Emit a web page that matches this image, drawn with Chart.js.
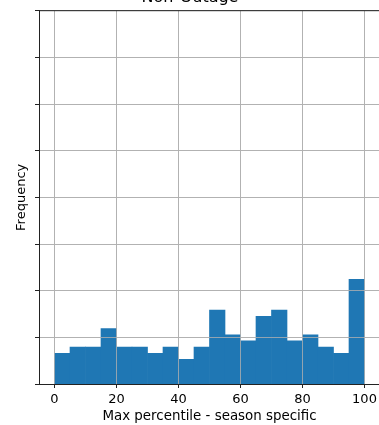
<!DOCTYPE html>
<html lang="en">
<head>
  <meta charset="UTF-8" />
  <title>Non-Outage</title>
  <script src="https://cdn.jsdelivr.net/npm/chart.js"></script>
  <style>
    body { margin: 0; overflow: hidden; background: #fff; }
    #wrap { position: absolute; left: 0; top: -20px; width: 382px; height: 445px; }
  </style>
</head>
<body>
  <div id="wrap"><canvas id="histChart"></canvas></div>

  <script>
    // histogram bins (centres of 5-wide bins) and their counts
    const binCenters = [2.5, 7.5, 12.5, 17.5, 22.5, 27.5, 32.5, 37.5, 42.5, 47.5,
                        52.5, 57.5, 62.5, 67.5, 72.5, 77.5, 82.5, 87.5, 92.5, 97.5];
    const counts = [5, 6, 6, 9, 6, 6, 5, 6, 4, 6,
                    12, 8, 7, 11, 12, 7, 8, 6, 5, 17];
    const xTicks = [0, 20, 40, 60, 80, 100];
    const yMax = 60.7;

    const FONT = "'DejaVu Sans', sans-serif";

    // matplotlib draws the grid over the bars here, plus a top spine
    const gridOnTop = {
      id: "gridOnTop",
      afterDatasetsDraw(chart) {
        const area = chart.chartArea;
        chart.scales.x.drawGrid(area);
        chart.scales.y.drawGrid(area);
        chart.scales.x.drawBorder();
        chart.scales.y.drawBorder();
        const ctx = chart.ctx;
        ctx.save();
        ctx.strokeStyle = "#222";
        ctx.lineWidth = 1;
        ctx.beginPath();
        ctx.moveTo(area.left, area.top);
        ctx.lineTo(area.right, area.top);
        ctx.stroke();
        ctx.restore();
      }
    };

    new Chart(document.getElementById("histChart"), {
      type: "bar",
      data: {
        datasets: [{
          data: binCenters.map((c, i) => ({ x: c, y: counts[i] })),
          backgroundColor: "#1f77b4",
          borderWidth: 0,
          barPercentage: 1,
          categoryPercentage: 1
        }]
      },
      options: {
        responsive: true,
        maintainAspectRatio: false,
        animation: false,
        layout: { padding: { left: 0, right: 2, top: 0, bottom: 0 } },
        plugins: {
          legend: { display: false },
          tooltip: { enabled: false },
          title: {
            display: true,
            text: "Non-Outage",
            color: "#000",
            font: { family: FONT, size: 16, weight: "normal" },
            padding: { top: 8.1, bottom: 3.4 }
          }
        },
        scales: {
          x: {
            type: "linear",
            min: -5,
            max: 105,
            offset: false,
            afterBuildTicks: s => { s.ticks = xTicks.map(v => ({ value: v })); },
            afterFit: s => { s.height = 41; },
            grid: { offset: false, color: "#b0b0b0", lineWidth: 0.8, tickColor: "#222", tickLength: 4, tickWidth: 1 },
            border: { color: "#222", width: 1 },
            ticks: { color: "#000", font: { family: FONT, size: 13 }, padding: 4, maxRotation: 0 },
            title: {
              display: true,
              text: "Max percentile - season specific",
              color: "#000",
              font: { family: FONT, size: 13.4 },
              padding: { top: 2, bottom: 0 }
            }
          },
          y: {
            min: 0,
            max: yMax,
            afterFit: s => { s.width = 39; },
            grid: { color: "#b0b0b0", lineWidth: 0.8, tickColor: "#222", tickLength: 4, tickWidth: 1 },
            border: { color: "#222", width: 1 },
            ticks: { display: false, count: 9 },
            title: {
              display: true,
              text: "Frequency",
              color: "#000",
              font: { family: FONT, size: 13 },
              padding: { top: 14.2, bottom: 0 }
            }
          }
        }
      },
      plugins: [gridOnTop]
    });
  </script>
</body>
</html>
